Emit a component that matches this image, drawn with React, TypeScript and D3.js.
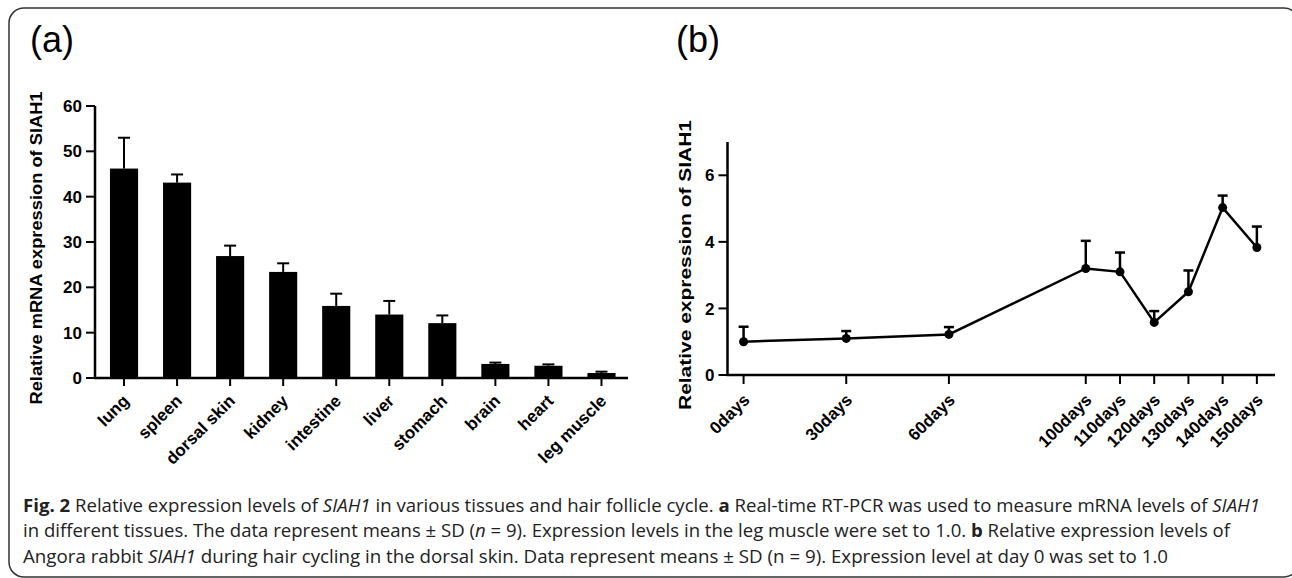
import React from 'react';
import * as d3 from 'd3';

// panel (a): tissues
const tissues = ['lung', 'spleen', 'dorsal skin', 'kidney', 'intestine', 'liver', 'stomach', 'brain', 'heart', 'leg muscle'];
const tissueMean = [46.2, 43.1, 26.9, 23.4, 15.9, 14.0, 12.1, 3.1, 2.7, 1.1];
const tissueUpper = [53.0, 44.9, 29.2, 25.3, 18.6, 17.0, 13.8, 3.4, 3.0, 1.4];
const tissueTicks = [0, 10, 20, 30, 40, 50, 60];

// panel (b): hair cycle
const days = [0, 30, 60, 100, 110, 120, 130, 140, 150];
const dayLabels = ['0days', '30days', '60days', '100days', '110days', '120days', '130days', '140days', '150days'];
const cycleMean = [1.0, 1.1, 1.22, 3.2, 3.1, 1.58, 2.5, 5.03, 3.83];
const cycleUpper = [1.45, 1.32, 1.44, 4.03, 3.68, 1.92, 3.14, 5.39, 4.46];
const cycleTicks = [0, 2, 4, 6];

const F = '"Liberation Sans", Arial, sans-serif';

export default function App() {
  // (a) scales
  const xa = d3.scaleBand().domain(tissues).range([97.5, 628]).paddingInner(0.47).paddingOuter(0.235);
  const ya = d3.scaleLinear().domain([0, 60]).range([378, 106]);
  const axA = 95;

  // (b) scales
  const xb = d3.scaleLinear().domain([-4.7, 155.3]).range([727.5, 1275]);
  const yb = d3.scaleLinear().domain([0, 7]).range([375, 142]);
  const axB = 727.5;
  const line = d3.line<number>().x((d, i) => xb(days[i])).y(d => yb(d));

  return (
    <svg width={1292} height={578} style={{ position: 'absolute', left: 0, top: 0 }}>
      <rect x={0} y={0} width={1292} height={578} fill="#fff" />
      <rect x={9} y={8} width={1290} height={569} rx={15} fill="none" stroke="#333" strokeWidth={1.5} />

      <text x={30} y={52} fontFamily={F} fontSize={36}>(a)</text>
      <text x={676} y={52} fontFamily={F} fontSize={36}>(b)</text>

      {/* panel a */}
      <g fontFamily={F} fontWeight="bold" fill="#000">
        <text transform={`translate(42,248) rotate(-90)`} textAnchor="middle" fontSize={16} textLength={313} lengthAdjust="spacingAndGlyphs">Relative mRNA expression of SIAH1</text>
        {tissueTicks.map(t => (
          <g key={t}>
            <line x1={axA - 9} x2={axA} y1={ya(t)} y2={ya(t)} stroke="#000" strokeWidth={2} />
            <text x={axA - 13} y={ya(t)} dy="0.36em" textAnchor="end" fontSize={17}>{t}</text>
          </g>
        ))}
        {tissues.map((c, i) => {
          const cx = xa(c)! + xa.bandwidth() / 2;
          return (
            <g key={c}>
              <line x1={cx} x2={cx} y1={ya(tissueMean[i])} y2={ya(tissueUpper[i])} stroke="#000" strokeWidth={2} />
              <line x1={cx - 6} x2={cx + 6} y1={ya(tissueUpper[i])} y2={ya(tissueUpper[i])} stroke="#000" strokeWidth={2} />
              <rect x={xa(c)} y={ya(tissueMean[i])} width={xa.bandwidth()} height={ya(0) - ya(tissueMean[i])} fill="#000" />
              <line x1={cx} x2={cx} y1={ya(0)} y2={ya(0) + 8} stroke="#000" strokeWidth={2} />
              <text transform={`translate(${cx + 6},${402}) rotate(-45)`} textAnchor="end" fontSize={17}>{c}</text>
            </g>
          );
        })}
        <line x1={axA} x2={axA} y1={ya(60)} y2={ya(0) + 1} stroke="#000" strokeWidth={2.5} />
        <line x1={axA - 1} x2={628} y1={ya(0)} y2={ya(0)} stroke="#000" strokeWidth={2.5} />
      </g>

      {/* panel b */}
      <g fontFamily={F} fontWeight="bold" fill="#000">
        <text transform={`translate(691,265) rotate(-90)`} textAnchor="middle" fontSize={17} textLength={290} lengthAdjust="spacingAndGlyphs">Relative expression of SIAH1</text>
        {cycleTicks.map(t => (
          <g key={t}>
            <line x1={axB - 9} x2={axB} y1={yb(t)} y2={yb(t)} stroke="#000" strokeWidth={2} />
            <text x={axB - 13} y={yb(t)} dy="0.36em" textAnchor="end" fontSize={17}>{t}</text>
          </g>
        ))}
        {days.map((d, i) => (
          <g key={d}>
            <line x1={xb(d)} x2={xb(d)} y1={yb(0)} y2={yb(0) + 9} stroke="#000" strokeWidth={2} />
            <text transform={`translate(${xb(d) + 7},${401}) rotate(-45)`} textAnchor="end" fontSize={17}>{dayLabels[i]}</text>
            <line x1={xb(d)} x2={xb(d)} y1={yb(cycleMean[i])} y2={yb(cycleUpper[i])} stroke="#000" strokeWidth={2.5} />
            <line x1={xb(d) - 5} x2={xb(d) + 5} y1={yb(cycleUpper[i])} y2={yb(cycleUpper[i])} stroke="#000" strokeWidth={2.5} />
          </g>
        ))}
        <path d={line(cycleMean) || ''} fill="none" stroke="#000" strokeWidth={2.5} />
        {days.map((d, i) => (
          <circle key={d} cx={xb(d)} cy={yb(cycleMean[i])} r={4.5} fill="#000" />
        ))}
        <line x1={axB} x2={axB} y1={142} y2={yb(0) + 1} stroke="#000" strokeWidth={2.5} />
        <line x1={axB - 1} x2={1275} y1={yb(0)} y2={yb(0)} stroke="#000" strokeWidth={2.5} />
      </g>

      {/* caption */}
      <g fontFamily='"Open Sans", sans-serif' fontSize={18} fill="#222">
        <text x={23} y={512} textLength={1237} lengthAdjust="spacingAndGlyphs">
          <tspan fontWeight="bold">Fig. 2</tspan> Relative expression levels of <tspan fontStyle="italic">SIAH1</tspan> in various tissues and hair follicle cycle. <tspan fontWeight="bold">a</tspan> Real-time RT-PCR was used to measure mRNA levels of <tspan fontStyle="italic">SIAH1</tspan>
        </text>
        <text x={23} y={537} textLength={1207} lengthAdjust="spacingAndGlyphs">
          in different tissues. The data represent means ± SD (<tspan fontStyle="italic">n</tspan> = 9). Expression levels in the leg muscle were set to 1.0. <tspan fontWeight="bold">b</tspan> Relative expression levels of
        </text>
        <text x={23} y={563} textLength={1145} lengthAdjust="spacingAndGlyphs">
          Angora rabbit <tspan fontStyle="italic">SIAH1</tspan> during hair cycling in the dorsal skin. Data represent means ± SD (n = 9). Expression level at day 0 was set to 1.0
        </text>
      </g>
    </svg>
  );
}
